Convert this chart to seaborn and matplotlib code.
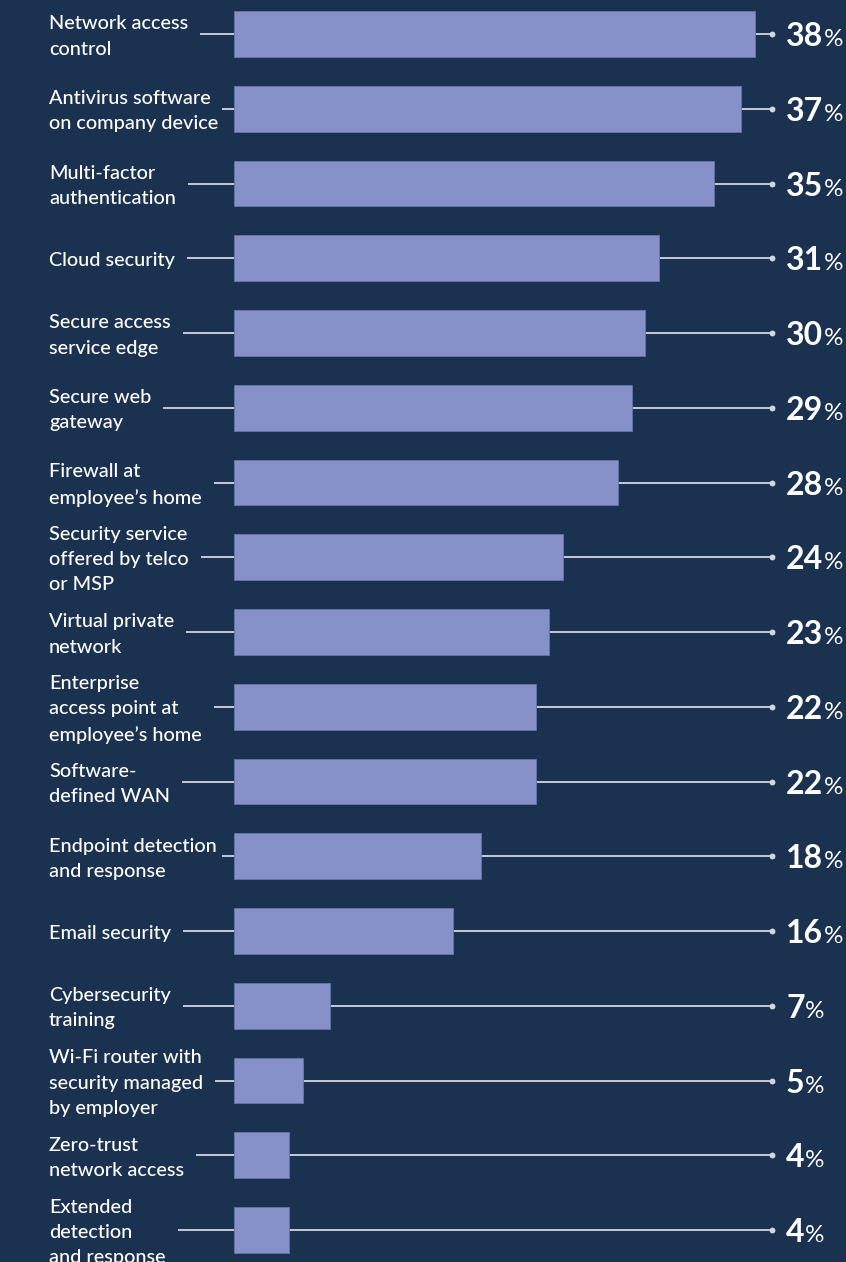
import matplotlib
matplotlib.use("Agg")
import matplotlib.pyplot as plt
import seaborn as sns
import pandas as pd

categories = [
    "Network access\ncontrol",
    "Antivirus software\non company device",
    "Multi-factor\nauthentication",
    "Cloud security",
    "Secure access\nservice edge",
    "Secure web\ngateway",
    "Firewall at\nemployee\u2019s home",
    "Security service\noffered by telco\nor MSP",
    "Virtual private\nnetwork",
    "Enterprise\naccess point at\nemployee\u2019s home",
    "Software-\ndefined WAN",
    "Endpoint detection\nand response",
    "Email security",
    "Cybersecurity\ntraining",
    "Wi-Fi router with\nsecurity managed\nby employer",
    "Zero-trust\nnetwork access",
    "Extended\ndetection\nand response",
]
values = [38, 37, 35, 31, 30, 29, 28, 24, 23, 22, 22, 18, 16, 7, 5, 4, 4]

BG = "#1a3150"
BAR = "#8591c8"
EDGE = "#6476ab"
LINE = "#d3d6de"
W, H = 846, 1262

sns.set_theme(style="white")
plt.rcParams["font.family"] = ["Lato", "DejaVu Sans"]

# pixel geometry of the layout
X0_PX = 234.0      # x pixel of value 0
PX_PER = 13.71     # pixels per percentage point
Y0_PX = 34.0       # y pixel of first row centre
ROW_PX = 74.75     # row pitch


def px_x(px):
    return (px - X0_PX) / PX_PER


fig = plt.figure(figsize=(W / 100, H / 100), dpi=100, facecolor=BG)
ax = fig.add_axes([0, 0, 1, 1], facecolor=BG)

df = pd.DataFrame({"cat": categories, "val": values})
sns.barplot(data=df, x="val", y="cat", color=BAR, saturation=1, width=0.61,
            edgecolor=EDGE, linewidth=0.6, ax=ax, zorder=3)

ax.set_xlim(px_x(0), px_x(W))
ax.set_ylim((H - Y0_PX) / ROW_PX, -Y0_PX / ROW_PX)
ax.axis("off")

dot_x = px_x(772)
label_off = 2.5 / ROW_PX
label_objs = []
for i, (cat, v) in enumerate(zip(categories, values)):
    t = ax.text(px_x(49), i + label_off, cat, ha="left", va="center", fontsize=14.3,
                color="white", linespacing=1.58, fontweight="medium", zorder=5)
    label_objs.append(t)

fig.canvas.draw()
renderer = fig.canvas.get_renderer()

for i, (t, v) in enumerate(zip(label_objs, values)):
    bb = t.get_window_extent(renderer)
    start_px = min(bb.x1 + 12, 222)
    ax.plot([px_x(start_px), dot_x], [i, i], color=LINE, lw=1.3, zorder=1,
            solid_capstyle="butt")
    ax.scatter([dot_x], [i], s=18, color=LINE, zorder=4, linewidths=0)

num_objs = []
base_off = 12.0 / ROW_PX
for i, v in enumerate(values):
    n = ax.text(px_x(786), i + base_off, f"{v}", ha="left", va="baseline",
                fontsize=23, fontweight="bold", color="white", zorder=5)
    num_objs.append(n)

fig.canvas.draw()
for i, n in enumerate(num_objs):
    bb = n.get_window_extent(renderer)
    ax.text(px_x(bb.x1 + 0.5), i + base_off, "%", ha="left", va="baseline",
            fontsize=17.5, fontweight="normal", color="white", zorder=5)

fig.savefig("out.png", dpi=100, facecolor=BG)
